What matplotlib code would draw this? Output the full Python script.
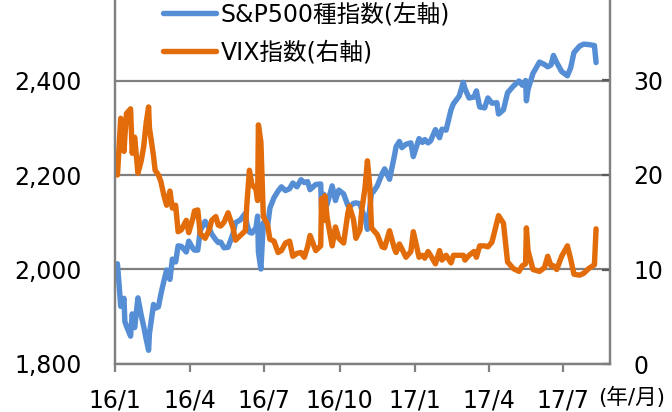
import matplotlib
matplotlib.use("Agg")
import matplotlib.pyplot as plt
import matplotlib.ticker as mticker
import pandas as pd

plt.rcParams['font.family'] = ['DejaVu Sans', 'Noto Sans CJK JP']

# approx. daily closes
dates = [
    "2016-01-04", "2016-01-07", "2016-01-08", "2016-01-12", "2016-01-13", "2016-01-15",
    "2016-01-20", "2016-01-22", "2016-01-25", "2016-01-29", "2016-02-02", "2016-02-05",
    "2016-02-08", "2016-02-11", "2016-02-12", "2016-02-17", "2016-02-19", "2016-02-23",
    "2016-02-26", "2016-03-01", "2016-03-04", "2016-03-08", "2016-03-11", "2016-03-15",
    "2016-03-18", "2016-03-22", "2016-03-28", "2016-03-31", "2016-04-05", "2016-04-07",
    "2016-04-11", "2016-04-14", "2016-04-20", "2016-04-25", "2016-04-28", "2016-05-03",
    "2016-05-06", "2016-05-09", "2016-05-13", "2016-05-18", "2016-05-24", "2016-05-27",
    "2016-06-02", "2016-06-08", "2016-06-10", "2016-06-13", "2016-06-16", "2016-06-21",
    "2016-06-23", "2016-06-24", "2016-06-27", "2016-06-30", "2016-07-05", "2016-07-08",
    "2016-07-13", "2016-07-18", "2016-07-22", "2016-07-27", "2016-08-01", "2016-08-05",
    "2016-08-10", "2016-08-15", "2016-08-19", "2016-08-23", "2016-08-26", "2016-09-02",
    "2016-09-08", "2016-09-09", "2016-09-12", "2016-09-13", "2016-09-16", "2016-09-22",
    "2016-09-26", "2016-09-30", "2016-10-06", "2016-10-11", "2016-10-13", "2016-10-18",
    "2016-10-21", "2016-10-26", "2016-10-28", "2016-11-01", "2016-11-04", "2016-11-07",
    "2016-11-09", "2016-11-11", "2016-11-16", "2016-11-22", "2016-11-25", "2016-12-01",
    "2016-12-07", "2016-12-09", "2016-12-13", "2016-12-16", "2016-12-21", "2016-12-27",
    "2016-12-30", "2017-01-06", "2017-01-10", "2017-01-13", "2017-01-17", "2017-01-20",
    "2017-01-26", "2017-01-31", "2017-02-03", "2017-02-08", "2017-02-14", "2017-02-17",
    "2017-02-24", "2017-03-01", "2017-03-03", "2017-03-08", "2017-03-14", "2017-03-17",
    "2017-03-21", "2017-03-27", "2017-03-31", "2017-04-05", "2017-04-11", "2017-04-13",
    "2017-04-19", "2017-04-24", "2017-05-01", "2017-05-08", "2017-05-12", "2017-05-16",
    "2017-05-17", "2017-05-19", "2017-05-25", "2017-06-02", "2017-06-08", "2017-06-12",
    "2017-06-16", "2017-06-19", "2017-06-23", "2017-06-29", "2017-07-06", "2017-07-10",
    "2017-07-14", "2017-07-21", "2017-07-26", "2017-08-01", "2017-08-08", "2017-08-10",
]
spx = [
    2012, 1943, 1922, 1939, 1890, 1880, 1859, 1906, 1877, 1940, 1903, 1880,
    1853, 1829, 1864, 1926, 1918, 1921, 1948, 1978, 1999, 1979, 2022, 2016,
    2050, 2049, 2037, 2060, 2045, 2041, 2041, 2082, 2102, 2087, 2075, 2063,
    2057, 2058, 2046, 2047, 2076, 2099, 2105, 2119, 2096, 2079, 2077, 2088,
    2113, 2037, 2001, 2099, 2089, 2130, 2152, 2166, 2175, 2167, 2171, 2183,
    2175, 2190, 2184, 2186, 2169, 2180, 2181, 2128, 2159, 2127, 2139, 2177,
    2146, 2168, 2160, 2136, 2132, 2140, 2141, 2139, 2126, 2111, 2085, 2131,
    2163, 2164, 2177, 2203, 2213, 2191, 2241, 2260, 2271, 2258, 2265, 2268,
    2239, 2277, 2269, 2275, 2268, 2272, 2296, 2279, 2297, 2295, 2338, 2351,
    2367, 2396, 2383, 2363, 2365, 2378, 2344, 2342, 2363, 2352, 2353, 2329,
    2338, 2374, 2388, 2399, 2390, 2400, 2357, 2381, 2415, 2439, 2434, 2429,
    2433, 2453, 2438, 2419, 2410, 2427, 2459, 2473, 2477, 2476, 2474, 2438,
]
vix = [
    20.0, 24.5, 26.0, 22.5, 24.0, 26.5, 27.0, 22.3, 24.0, 20.2, 21.5, 23.0,
    25.5, 27.2, 25.0, 22.0, 20.5, 20.0, 19.3, 17.7, 16.8, 18.3, 16.5, 16.8,
    14.0, 14.2, 15.2, 13.9, 15.4, 16.2, 16.3, 13.8, 13.3, 14.2, 15.2, 15.6,
    14.7, 14.6, 15.0, 16.0, 14.4, 13.1, 13.6, 14.1, 17.0, 20.5, 19.0, 18.5,
    17.3, 25.3, 23.5, 15.6, 14.8, 13.2, 13.0, 11.8, 12.0, 12.8, 13.0, 11.4,
    11.7, 11.8, 11.3, 12.4, 13.6, 12.0, 12.5, 17.5, 15.2, 17.8, 15.4, 12.5,
    14.5, 13.3, 12.8, 15.9, 16.7, 15.3, 13.3, 14.2, 16.2, 18.6, 21.5, 18.7,
    14.4, 14.2, 13.7, 12.4, 12.3, 14.1, 12.2, 11.8, 12.7, 12.2, 11.3, 11.9,
    14.0, 11.3, 11.5, 11.2, 11.9, 11.5, 10.6, 12.0, 11.0, 11.5, 10.7, 11.5,
    11.5, 11.5, 11.0, 11.5, 11.9, 11.3, 12.5, 12.5, 12.4, 12.9, 15.0, 15.7,
    14.9, 10.8, 10.1, 9.8, 10.4, 10.6, 14.4, 12.0, 10.0, 9.8, 10.2, 11.4,
    10.4, 10.4, 10.0, 11.4, 12.5, 11.1, 9.5, 9.4, 9.6, 10.1, 10.5, 14.3,
]

tick_dates = ["2016-01-01", "2016-04-01", "2016-07-01", "2016-10-01",
              "2017-01-01", "2017-04-01", "2017-07-01"]
tick_labels = ["16/1", "16/4", "16/7", "16/10", "17/1", "17/4", "17/7"]

x = pd.to_datetime(dates)
blue = "#558ED5"
orange = "#E36C0A"
gray = "#808080"

fig = plt.figure(figsize=(6.72, 4.12), dpi=100)
W, H = 672, 412
ax = fig.add_axes([115 / W, 48 / H, 495 / W, 378 / H])
ax2 = ax.twinx()

l1, = ax.plot(x, spx, color=blue, lw=3.9, solid_joinstyle="round",
              solid_capstyle="round", label="S&P500種指数(左軸)")
l2, = ax2.plot(x, vix, color=orange, lw=3.9, solid_joinstyle="round",
               solid_capstyle="round", label="VIX指数(右軸)")

ax.set_xlim(pd.Timestamp("2016-01-01"), pd.Timestamp("2017-08-27"))
ax.set_ylim(1800, 2600)
ax2.set_ylim(0, 40)

ax.set_yticks([1800, 2000, 2200, 2400])
ax.yaxis.set_major_formatter(mticker.FuncFormatter(lambda v, p: f"{v:,.0f}"))
ax2.set_yticks([0, 10, 20, 30])
ax.set_xticks(pd.to_datetime(tick_dates))
ax.set_xticklabels(tick_labels)

ax.grid(axis="y", color=gray, lw=1.6)
ax.set_axisbelow(True)

for a in (ax, ax2):
    for s in a.spines.values():
        s.set_color(gray)
        s.set_linewidth(1.6)
    a.spines["top"].set_visible(False)

ax.tick_params(axis="y", length=0, pad=24, labelsize=17)
ax.tick_params(axis="x", length=6, width=1.6, color=gray, direction="out",
               pad=12, labelsize=17)
ax2.tick_params(axis="y", length=6, width=1.6, color="#595959", direction="in",
                pad=17, labelsize=17)

fig.text(598 / W, 1 - 397 / H, "(年/月)", fontsize=15.5, va="center", ha="left")

fig.legend(handles=[l1, l2], loc="upper left", bbox_to_anchor=(163 / W, 0.995),
           frameon=False, fontsize=17, handlelength=2.25, handletextpad=0.2,
           labelspacing=0.62, borderpad=0, borderaxespad=0)

fig.savefig("out.png", dpi=100)
